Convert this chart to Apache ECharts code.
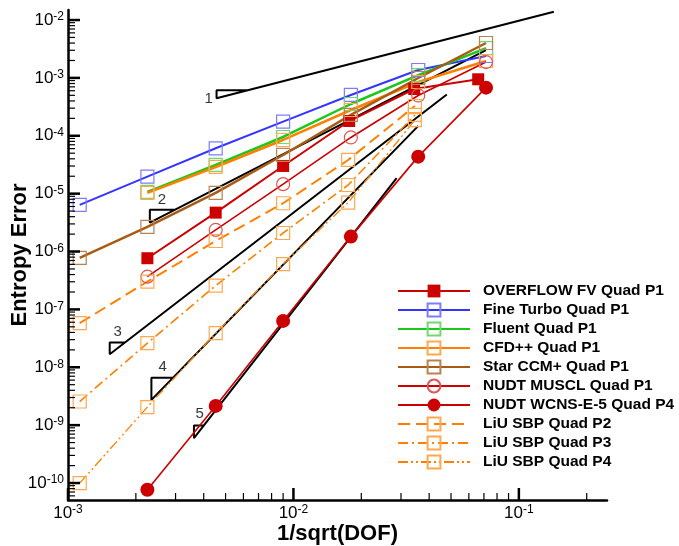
<!DOCTYPE html>
<html><head><meta charset="utf-8">
<script src="https://cdn.jsdelivr.net/npm/echarts@6/dist/echarts.min.js"></script>
<style>html,body{margin:0;padding:0;background:#fff}#c{width:679px;height:546px}</style>
</head><body><div id="c"></div>
<script>
// ---- axis ranges and decades ----
const X_MIN = 0.001, X_MAX = 0.246;
const Y_MIN = 5.09e-11, Y_MAX = 1.49e-2;
const xDecades = [0.001, 0.01, 0.1];
const yDecades = [1e-11, 1e-10, 1e-9, 1e-8, 1e-7, 1e-6, 1e-5, 1e-4, 1e-3, 1e-2];

// ---- grid sizes (1/sqrt(DOF)) ----
const hStd = [0.001127, 0.00225, 0.00452, 0.0090, 0.01798, 0.03577, 0.0715];
const hOverflow = [0.00225, 0.00452, 0.0090, 0.01767, 0.03433, 0.0660];
const hLiu = [0.001127, 0.00225, 0.00452, 0.0090, 0.01749, 0.03458];

// ---- entropy error values ----
const overflowFV = [7.66e-7, 4.70e-6, 3.01e-5, 1.80e-4, 6.43e-4, 9.46e-4];
const fineTurbo = [6.38e-6, 1.97e-5, 6.08e-5, 1.76e-4, 5.07e-4, 1.37e-3, 2.39e-3];
const fluent = [1.07e-5, 3.13e-5, 9.53e-5, 3.54e-4, 1.12e-3, 3.28e-3];
const cfdpp = [1.03e-5, 2.89e-5, 8.46e-5, 2.79e-4, 8.5e-4, 1.96e-3];
const starCCM = [7.76e-7, 2.66e-6, 1.03e-5, 4.66e-5, 2.29e-4, 9.96e-4, 4.01e-3];
const nudtMuscl = [3.68e-7, 2.36e-6, 1.46e-5, 9.35e-5, 4.97e-4, 1.88e-3];
const nudtWcns = [7.64e-11, 2.15e-9, 6.33e-8, 1.81e-6, 4.36e-5, 6.78e-4];
const liuP2 = [5.78e-8, 3.02e-7, 1.52e-6, 6.83e-6, 3.82e-5, 3.27e-4];
const liuP3 = [2.56e-9, 2.61e-8, 2.58e-7, 2.09e-6, 1.41e-5, 2.29e-4];
const liuP4 = [9.95e-11, 2.05e-9, 3.88e-8, 6.04e-7, 7.0e-6, 1.87e-4];

// ---- slope reference triangles: [corner-right, corner, start, end] ----
const ref1 = [[6.28e-3, 6.11e-4], [4.56e-3, 6.11e-4], [4.56e-3, 4.44e-4], [0.143, 1.39e-2]];
const ref2 = [[2.98e-3, 5.26e-6], [2.307e-3, 5.26e-6], [2.307e-3, 3.155e-6], [0.0715, 3.03e-3]];
const ref3 = [[1.787e-3, 2.67e-8], [1.531e-3, 2.67e-8], [1.531e-3, 1.68e-8], [0.0479, 5.15e-4]];
const ref4 = [[2.92e-3, 6.57e-9], [2.344e-3, 6.57e-9], [2.344e-3, 2.73e-9], [0.0358, 1.485e-4]];
const ref5 = [[4.0e-3, 9.82e-10], [3.62e-3, 9.82e-10], [3.62e-3, 5.96e-10], [0.02868, 1.862e-5]];
const slopeLabels = [['1', 4.21e-3, 4.32e-4], ['2', 2.61e-3, 7.78e-6], ['3', 1.662e-3, 4.08e-8], ['4', 2.63e-3, 1.017e-8], ['5', 3.84e-3, 1.566e-9]];

const names = ['OVERFLOW FV Quad P1', 'Fine Turbo Quad P1', 'Fluent Quad P1', 'CFD++ Quad P1', 'Star CCM+ Quad P1',
  'NUDT MUSCL Quad P1', 'NUDT WCNS-E-5 Quad P4', 'LiU SBP Quad P2', 'LiU SBP Quad P3', 'LiU SBP Quad P4'];

const FONT = '"Liberation Sans", Arial, Helvetica, sans-serif';
const pair = (xs, ys) => ys.map((y, i) => [xs[i], y]);

// ---- tick marks (drawn through the axes' scales) ----
const ticks = [];
xDecades.forEach(d => {
  if (d >= X_MIN && d <= X_MAX) ticks.push([d, Y_MIN, 0, 12, 2.5]);
  for (let m = 2; m <= 9; m++) { const v = m * d; if (v > X_MIN && v < X_MAX) ticks.push([v, Y_MIN, 0, 7, 1.2]); }
});
yDecades.forEach(d => {
  if (d >= Y_MIN && d <= Y_MAX) ticks.push([X_MIN, d, 1, 12, 2.5]);
  for (let m = 2; m <= 9; m++) { const v = m * d; if (v > Y_MIN && v < Y_MAX) ticks.push([X_MIN, v, 1, 7, 1.2]); }
});

function powLabel(v) {
  const e = Math.log10(v);
  if (Math.abs(e - Math.round(e)) > 1e-6) return '';
  return '{b|10}{s|' + Math.round(e) + '}';
}
const labelRich = {
  b: { fontSize: 17, lineHeight: 18, fontFamily: FONT, color: '#000' },
  s: { fontSize: 12, lineHeight: 12, verticalAlign: 'top', fontFamily: FONT, color: '#000' }
};

function refSeries(d) {
  return { type: 'line', data: d, symbol: 'none', silent: true, z: 1,
    lineStyle: { color: '#000', width: 2 } };
}
function dataSeries(name, xs, ys, color, width, dash, symbol, size, fill, border, bw) {
  return { name, type: 'line', data: pair(xs, ys), symbol, symbolSize: size, z: 3,
    lineStyle: { color, width, type: dash },
    itemStyle: { color: fill, borderColor: border, borderWidth: bw } };
}
const RED = '#cc0000', BLUE = '#3434ff', GREEN = '#19c819', ORANGE = '#ff8000', BROWN = '#a85b15';

const option = {
  animation: false,
  backgroundColor: '#fff',
  grid: { left: 68, right: 72, top: 10, bottom: 46, outerBoundsMode: 'none', containLabel: false },
  xAxis: {
    type: 'log', logBase: 10, min: X_MIN, max: X_MAX,
    axisLine: { lineStyle: { color: '#000', width: 2.5 } },
    axisTick: { show: false }, splitLine: { show: false },
    axisLabel: { formatter: powLabel, rich: labelRich, margin: 4 },
    name: '1/sqrt(DOF)', nameLocation: 'middle', nameGap: 23, nameMoveOverlap: false,
    nameTextStyle: { fontFamily: FONT, fontSize: 22, fontWeight: 'bold', color: '#000' }
  },
  yAxis: {
    type: 'log', logBase: 10, min: Y_MIN, max: Y_MAX,
    axisLine: { lineStyle: { color: '#000', width: 2.5 } },
    axisTick: { show: false }, splitLine: { show: false },
    axisLabel: { formatter: powLabel, rich: labelRich, margin: 4 },
    name: 'Entropy Error', nameLocation: 'middle', nameGap: 37, nameMoveOverlap: false,
    nameTextStyle: { fontFamily: FONT, fontSize: 22, fontWeight: 'bold', color: '#000' }
  },
  legend: {
    orient: 'vertical', left: 397, top: 283, padding: 0, itemWidth: 72, itemHeight: 16, itemGap: 3,
    selectedMode: false, data: names,
    textStyle: { fontFamily: FONT, fontSize: 15.5, fontWeight: 'bold', color: '#000', padding: [0, 0, 0, 8] }
  },
  series: [
    refSeries(ref1), refSeries(ref2), refSeries(ref3), refSeries(ref4), refSeries(ref5),
    { type: 'scatter', silent: true, symbolSize: 1, itemStyle: { color: 'transparent' }, z: 2,
      data: slopeLabels.map(s => ({ name: s[0], value: [s[1], s[2]] })),
      label: { show: true, position: 'inside', formatter: '{b}', fontFamily: FONT, fontSize: 15, color: '#000' } },
    dataSeries(names[0], hOverflow, overflowFV, RED, 2, 'solid', 'rect', 12, RED, RED, 0),
    dataSeries(names[1], hStd, fineTurbo, BLUE, 2, 'solid', 'rect', 13, 'transparent', '#7c7cff', 1.2),
    dataSeries(names[2], hStd.slice(1), fluent, GREEN, 2.5, 'solid', 'rect', 13, 'transparent', '#72d872', 1.2),
    dataSeries(names[3], hStd.slice(1), cfdpp, ORANGE, 2.5, 'solid', 'rect', 13, 'transparent', '#ffa850', 1.2),
    dataSeries(names[4], hStd, starCCM, BROWN, 2.5, 'solid', 'rect', 13, 'transparent', '#b98250', 1.2),
    dataSeries(names[5], hStd.slice(1), nudtMuscl, RED, 1.6, 'solid', 'circle', 13, 'transparent', '#e05555', 1.2),
    dataSeries(names[6], hStd.slice(1), nudtWcns, RED, 1.6, 'solid', 'circle', 14, RED, RED, 0),
    dataSeries(names[7], hLiu, liuP2, ORANGE, 2, [12, 6], 'rect', 13, 'transparent', '#ffa850', 1.2),
    dataSeries(names[8], hLiu, liuP3, ORANGE, 1.6, [10, 4, 2, 4], 'rect', 13, 'transparent', '#ffa850', 1.2),
    dataSeries(names[9], hLiu, liuP4, ORANGE, 1.3, [10, 3, 2, 3, 2, 3], 'rect', 13, 'transparent', '#ffa850', 1.2),
    { type: 'custom', silent: true, clip: false, z: 5, data: ticks, encode: { x: 0, y: 1 },
      renderItem: function (params, api) {
        const p = api.coord([api.value(0), api.value(1)]);
        const dir = api.value(2), len = api.value(3), w = api.value(4);
        const shape = dir === 0 ? { x1: p[0], y1: p[1], x2: p[0], y2: p[1] - len }
                                : { x1: p[0], y1: p[1], x2: p[0] + len, y2: p[1] };
        return { type: 'line', shape, style: { stroke: '#000', lineWidth: w } };
      } }
  ]
};
echarts.init(document.getElementById('c'), null, { renderer: 'canvas' }).setOption(option);
</script></body></html>
